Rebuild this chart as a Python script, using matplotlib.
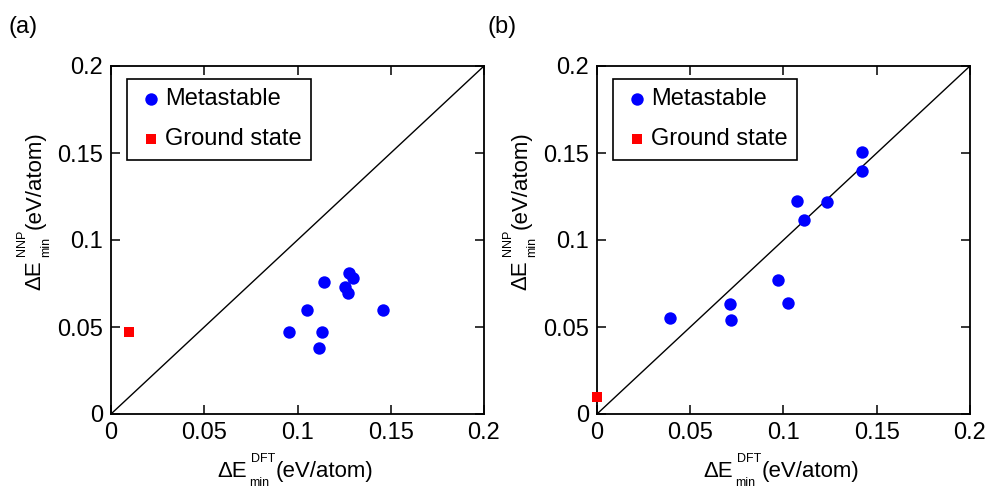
import matplotlib as mpl
from matplotlib import pyplot as plt

mpl.use("agg")

mpl.rcParams["font.family"] = "Liberation Sans"
mpl.rcParams["font.size"] = 17

# panel (a)
meta_dft_a = [0.0954, 0.1049, 0.1117, 0.1133, 0.1142, 0.1253, 0.1271, 0.1276, 0.1295, 0.1458]
meta_nnp_a = [0.0470, 0.0598, 0.0378, 0.0470, 0.0760, 0.0728, 0.0697, 0.0808, 0.0780, 0.0598]
gs_dft_a = [0.0096]
gs_nnp_a = [0.0470]

# panel (b)
meta_dft_b = [0.0392, 0.0713, 0.0720, 0.0973, 0.1025, 0.1073, 0.1109, 0.1235, 0.1419, 0.1420]
meta_nnp_b = [0.0550, 0.0633, 0.0540, 0.0770, 0.0640, 0.1223, 0.1114, 0.1216, 0.1506, 0.1396]
gs_dft_b = [0.0]
gs_nnp_b = [0.0098]

ticks = [0, 0.05, 0.1, 0.15, 0.2]
tick_labels = ["0", "0.05", "0.1", "0.15", "0.2"]

W, H = 995, 488
fig = plt.figure(figsize=(W / 100, H / 100), dpi=100)
ax_a = fig.add_axes([111 / W, 74 / H, 373 / W, 348 / H])
ax_b = fig.add_axes([597 / W, 74 / H, 373 / W, 348 / H])


def style_panel(ax, meta_x, meta_y, gs_x, gs_y):
    ax.plot([0, 0.2], [0, 0.2], c="k", lw=1.0, zorder=1)
    ax.scatter(meta_x, meta_y, s=80, c="#0000ff", marker="o", lw=0,
               label="Metastable", zorder=3, clip_on=False)
    ax.scatter(gs_x, gs_y, s=62, c="#ff0000", marker="s", lw=0,
               label="Ground state", zorder=3, clip_on=False)
    ax.set_xlim(0, 0.2)
    ax.set_ylim(0, 0.2)
    ax.set_xticks(ticks)
    ax.set_xticklabels(tick_labels)
    ax.set_yticks(ticks)
    ax.set_yticklabels(tick_labels)
    ax.tick_params(direction="in", length=6.5, width=1.1, top=True, right=True,
                   labelsize=17)
    ax.tick_params(axis="x", pad=6)
    ax.tick_params(axis="y", pad=5.5)
    for sp in ax.spines.values():
        sp.set_linewidth(1.3)
    leg = ax.legend(loc="upper left", bbox_to_anchor=(0.0437, 0.9626),
                    borderaxespad=0, frameon=True, fancybox=False,
                    edgecolor="k", framealpha=1, handletextpad=0.0,
                    handlelength=1.2, borderpad=0.4, labelspacing=0.75,
                    scatterpoints=1, fontsize=17)
    leg.get_frame().set_linewidth(1.2)


def energy_label(ax, x0, y0, sup, vertical=False):
    # Delta E with stacked "min" subscript and method superscript, in figure pixels
    main_size, script_size = 16, 9
    sub_shift, sup_shift = 8.7, 15.3
    if not vertical:
        base = ax.annotate("ΔE", xy=(x0, y0), xycoords="figure pixels",
                           fontsize=main_size, ha="left", va="baseline",
                           annotation_clip=False)
        ax.annotate("min", xy=(1, y0 - sub_shift), xycoords=(base, "figure pixels"),
                    xytext=(3, 0), textcoords="offset pixels",
                    fontsize=script_size, ha="left", va="baseline",
                    annotation_clip=False)
        top = ax.annotate(sup, xy=(1, y0 + sup_shift), xycoords=(base, "figure pixels"),
                          xytext=(4, 0), textcoords="offset pixels",
                          fontsize=script_size, ha="left", va="baseline",
                          annotation_clip=False)
        ax.annotate("(eV/atom)", xy=(1, y0), xycoords=(top, "figure pixels"),
                    xytext=(1, 0), textcoords="offset pixels",
                    fontsize=main_size, ha="left", va="baseline",
                    annotation_clip=False)
    else:
        kw = dict(rotation=90, rotation_mode="anchor", ha="left", va="baseline",
                  annotation_clip=False)
        base = ax.annotate("ΔE", xy=(x0, y0), xycoords="figure pixels",
                           fontsize=main_size, **kw)
        ax.annotate("min", xy=(x0 + sub_shift, 1), xycoords=("figure pixels", base),
                    xytext=(0, 3), textcoords="offset pixels",
                    fontsize=script_size, **kw)
        top = ax.annotate(sup, xy=(x0 - sup_shift, 1), xycoords=("figure pixels", base),
                          xytext=(0, 4), textcoords="offset pixels",
                          fontsize=script_size, **kw)
        ax.annotate("(eV/atom)", xy=(x0, 1), xycoords=("figure pixels", top),
                    xytext=(0, 1), textcoords="offset pixels",
                    fontsize=main_size, **kw)


style_panel(ax_a, meta_dft_a, meta_nnp_a, gs_dft_a, gs_nnp_a)
style_panel(ax_b, meta_dft_b, meta_nnp_b, gs_dft_b, gs_nnp_b)

energy_label(ax_a, 217, H - 477, "DFT")
energy_label(ax_a, 40.5, H - 290, "NNP", vertical=True)
energy_label(ax_b, 703, H - 477, "DFT")
energy_label(ax_b, 526.5, H - 290, "NNP", vertical=True)

fig.text(8 / W, 1 - 26.7 / H, "(a)", fontsize=17, va="center")
fig.text(488 / W, 1 - 26.7 / H, "(b)", fontsize=17, va="center")

fig.savefig("out.png", dpi=100)
plt.close(fig)
